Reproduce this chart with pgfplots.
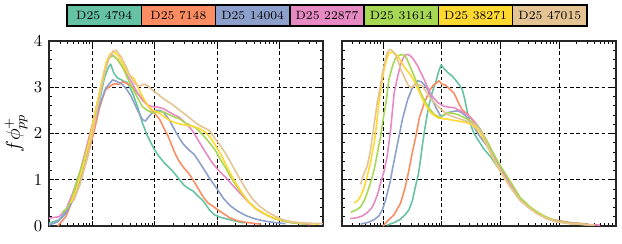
\documentclass[border=0pt]{standalone}
\usepackage{pgfplots}
\pgfplotsset{compat=1.18}
\definecolor{cA}{HTML}{66C2A5}
\definecolor{cB}{HTML}{FC8D62}
\definecolor{cC}{HTML}{8DA0CB}
\definecolor{cD}{HTML}{E78AC3}
\definecolor{cE}{HTML}{A6D854}
\definecolor{cF}{HTML}{FFD92F}
\definecolor{cG}{HTML}{E5C494}
\pgfplotsset{myax/.style={
  scale only axis, width=164.4pt, height=111pt, ymin=0, ymax=4,
  xtick={1,2,3,4}, xticklabels={},
  minor xtick={0.30103,0.47712,0.60206,0.69897,0.77815,0.84510,0.90309,0.95424,
    1.30103,1.47712,1.60206,1.69897,1.77815,1.84510,1.90309,1.95424,
    2.30103,2.47712,2.60206,2.69897,2.77815,2.84510,2.90309,2.95424,
    3.30103,3.47712,3.60206,3.69897,3.77815,3.84510,3.90309,3.95424,
    4.30103,4.47712,4.60206,4.69897,4.77815,4.84510,4.90309,4.95424},
  ytick={0,1,2,3,4}, minor y tick num=4,
  grid=major, major grid style={black, dash pattern=on 2.2pt off 1.6pt, line width=0.45pt},
  tick align=inside, xtick pos=both, ytick pos=both,
  major tick length=3pt, minor tick length=1.6pt,
  every tick/.style={black, line width=0.5pt},
  axis line style={black!85, line width=0.65pt},
  tick label style={font=\fontsize{10}{12}\selectfont},
  every axis plot/.append style={line width=0.95pt, no markers, line join=round},
}}
\begin{document}
\begin{tikzpicture}
\begin{axis}[myax, at={(29.4pt,10.2pt)}, anchor=south west, xmin=0.3, xmax=4.7,
  yticklabel style={xshift=-0.5pt},
  ylabel={$f\phi^{+}_{pp}$}, ylabel style={font=\fontsize{12}{14}\selectfont, yshift=-3pt}]
\addplot[cA] coordinates {(0.30,0.06)(0.46,0.13)(0.57,0.31)(0.68,0.63)(0.79,1.03)(0.87,1.35)(0.95,1.79)(1.03,2.22)(1.11,2.7)(1.19,3.2)(1.25,3.42)(1.29,3.5)(1.34,3.31)(1.40,3.2)(1.45,3.17)(1.50,3.13)(1.56,3.1)(1.64,2.88)(1.72,2.59)(1.80,2.23)(1.88,1.95)(1.99,1.66)(2.07,1.5)(2.15,1.37)(2.31,1.15)(2.39,1.01)(2.47,0.88)(2.55,0.8)(2.61,0.76)(2.70,0.64)(2.77,0.55)(2.84,0.42)(2.88,0.34)(2.96,0.24)(3.05,0.19)(3.14,0.16)(3.25,0.12)(3.41,0.07)(3.47,0.08)};
\addplot[cB] coordinates {(0.44,0.0)(0.57,0.2)(0.68,0.56)(0.81,0.99)(0.92,1.5)(1.03,2.08)(1.11,2.55)(1.17,2.8)(1.21,2.95)(1.29,3.03)(1.35,3.08)(1.42,3.06)(1.48,3.12)(1.55,3.08)(1.62,3.04)(1.70,2.9)(1.78,2.78)(1.88,2.62)(1.95,2.5)(2.02,2.4)(2.08,2.3)(2.15,2.1)(2.21,1.95)(2.27,1.75)(2.33,1.55)(2.39,1.40)(2.47,1.25)(2.55,1.13)(2.62,0.98)(2.70,0.8)(2.77,0.64)(2.85,0.5)(2.93,0.43)(3.0,0.36)(3.09,0.28)(3.2,0.18)(3.31,0.12)(3.45,0.08)(3.57,0.06)(3.70,0.04)};
\addplot[cC] coordinates {(0.30,0.02)(0.44,0.09)(0.57,0.27)(0.68,0.56)(0.79,0.92)(0.89,1.43)(1.0,2.08)(1.11,2.6)(1.21,2.98)(1.32,3.16)(1.40,3.12)(1.48,3.06)(1.55,2.95)(1.62,2.8)(1.72,2.51)(1.80,2.3)(1.85,2.27)(1.91,2.38)(2.0,2.5)(2.07,2.5)(2.13,2.47)(2.23,2.3)(2.34,2.02)(2.45,1.78)(2.55,1.64)(2.63,1.55)(2.72,1.37)(2.80,1.2)(2.88,1.03)(3.01,0.78)(3.10,0.6)(3.2,0.45)(3.33,0.32)(3.47,0.22)(3.62,0.15)(3.79,0.1)(3.95,0.07)(4.1,0.05)};
\addplot[cD] coordinates {(0.30,0.17)(0.46,0.2)(0.57,0.35)(0.68,0.71)(0.79,1.14)(0.89,1.64)(1.0,2.22)(1.11,2.87)(1.19,3.35)(1.26,3.62)(1.32,3.7)(1.40,3.6)(1.48,3.44)(1.56,3.25)(1.64,3.08)(1.72,2.88)(1.80,2.72)(1.88,2.62)(1.96,2.58)(2.05,2.57)(2.13,2.54)(2.21,2.48)(2.29,2.42)(2.39,2.35)(2.50,2.22)(2.61,2.05)(2.72,1.8)(2.82,1.58)(2.93,1.35)(3.04,1.18)(3.14,1.05)(3.25,0.88)(3.36,0.72)(3.5,0.52)(3.63,0.36)(3.76,0.26)(3.89,0.18)(4.05,0.11)(4.21,0.07)(4.5,0.03)};
\addplot[cE] coordinates {(0.51,0.29)(0.60,0.4)(0.66,0.56)(0.73,0.9)(0.84,1.35)(0.95,1.86)(1.05,2.5)(1.16,3.16)(1.22,3.5)(1.27,3.64)(1.33,3.68)(1.40,3.6)(1.48,3.44)(1.56,3.2)(1.64,2.98)(1.72,2.78)(1.80,2.58)(1.88,2.5)(1.96,2.45)(2.05,2.47)(2.13,2.47)(2.21,2.42)(2.29,2.37)(2.39,2.32)(2.50,2.22)(2.66,2.12)(2.77,1.97)(2.88,1.8)(2.98,1.62)(3.06,1.42)(3.14,1.25)(3.22,1.05)(3.31,0.87)(3.40,0.7)(3.52,0.5)(3.65,0.35)(3.79,0.24)(3.92,0.16)(4.05,0.11)(4.2,0.07)(4.43,0.04)};
\addplot[cF] coordinates {(0.65,0.5)(0.73,0.75)(0.84,1.25)(0.95,1.85)(1.05,2.5)(1.16,3.2)(1.22,3.55)(1.28,3.72)(1.34,3.76)(1.40,3.7)(1.48,3.52)(1.55,3.34)(1.61,3.24)(1.66,3.2)(1.73,3.0)(1.80,2.8)(1.87,2.64)(1.93,2.54)(2.0,2.48)(2.07,2.44)(2.15,2.36)(2.23,2.29)(2.31,2.24)(2.39,2.21)(2.50,2.18)(2.61,2.16)(2.71,2.11)(2.82,2.02)(2.90,1.9)(2.98,1.73)(3.04,1.6)(3.09,1.46)(3.15,1.3)(3.2,1.17)(3.28,0.97)(3.36,0.8)(3.44,0.64)(3.52,0.5)(3.62,0.38)(3.73,0.29)(3.86,0.2)(4.0,0.14)(4.15,0.1)(4.32,0.07)(4.5,0.05)(4.64,0.04)};
\addplot[cG] coordinates {(0.70,0.55)(0.80,0.9)(0.90,1.4)(1.0,2.0)(1.1,2.7)(1.2,3.35)(1.27,3.65)(1.33,3.78)(1.38,3.8)(1.46,3.65)(1.54,3.44)(1.60,3.25)(1.66,3.12)(1.72,3.03)(1.78,3.04)(1.83,3.07)(1.90,3.02)(1.96,2.94)(2.05,2.85)(2.13,2.76)(2.21,2.69)(2.29,2.62)(2.40,2.5)(2.50,2.4)(2.61,2.28)(2.71,2.18)(2.80,2.12)(2.88,2.06)(2.96,1.9)(3.04,1.76)(3.12,1.6)(3.2,1.42)(3.28,1.22)(3.36,1.03)(3.46,0.8)(3.57,0.58)(3.68,0.43)(3.79,0.32)(3.92,0.22)(4.05,0.14)(4.2,0.09)(4.32,0.07)(4.5,0.06)(4.7,0.05)};
\end{axis}
\begin{axis}[myax, at={(205.2pt,10.2pt)}, anchor=south west, xmin=0.3, xmax=4.97, yticklabels={}]
\addplot[cA] coordinates {(1.07,0.02)(1.2,0.08)(1.3,0.15)(1.38,0.25)(1.44,0.35)(1.5,0.55)(1.56,0.9)(1.60,1.1)(1.64,1.45)(1.67,1.75)(1.73,2.25)(1.78,2.6)(1.84,2.9)(1.90,3.12)(1.95,3.35)(1.99,3.48)(2.04,3.4)(2.10,3.32)(2.17,3.25)(2.24,3.15)(2.30,3.05)(2.35,2.95)(2.39,2.75)(2.44,2.45)(2.49,2.2)(2.55,2.0)(2.64,1.82)(2.72,1.66)(2.83,1.5)(2.95,1.28)(3.06,1.07)(3.17,0.85)(3.29,0.63)(3.46,0.42)(3.60,0.3)(3.75,0.2)(3.91,0.13)(4.2,0.07)(4.48,0.04)};
\addplot[cB] coordinates {(1.0,0.0)(1.07,0.1)(1.19,0.25)(1.30,0.5)(1.38,0.85)(1.44,1.2)(1.50,1.6)(1.56,1.95)(1.62,2.35)(1.70,2.65)(1.80,2.95)(1.86,3.05)(1.90,3.08)(1.95,3.14)(2.0,3.07)(2.06,3.05)(2.12,2.98)(2.21,2.87)(2.29,2.65)(2.35,2.51)(2.44,2.42)(2.52,2.29)(2.61,2.12)(2.70,1.92)(2.78,1.75)(2.86,1.6)(2.95,1.38)(3.06,1.14)(3.17,0.87)(3.29,0.65)(3.46,0.43)(3.60,0.31)(3.75,0.2)(3.91,0.13)(4.2,0.07)(4.5,0.04)};
\addplot[cC] coordinates {(0.62,0.04)(0.75,0.08)(0.85,0.14)(0.93,0.22)(0.99,0.36)(1.04,0.55)(1.07,0.7)(1.12,0.95)(1.16,1.23)(1.25,1.8)(1.33,2.31)(1.42,2.74)(1.50,2.99)(1.59,3.14)(1.65,3.12)(1.70,3.06)(1.76,2.95)(1.81,2.81)(1.90,2.56)(1.98,2.38)(2.04,2.4)(2.10,2.45)(2.20,2.48)(2.27,2.49)(2.34,2.45)(2.41,2.38)(2.48,2.27)(2.55,2.14)(2.64,1.95)(2.72,1.82)(2.78,1.72)(2.88,1.48)(3.0,1.2)(3.17,0.86)(3.34,0.56)(3.5,0.4)(3.63,0.28)(3.80,0.16)(3.97,0.09)(4.2,0.05)(4.5,0.03)};
\addplot[cD] coordinates {(0.44,0.16)(0.56,0.18)(0.65,0.22)(0.73,0.29)(0.80,0.38)(0.85,0.5)(0.91,0.7)(0.96,0.94)(1.02,1.2)(1.07,1.51)(1.10,1.8)(1.13,2.09)(1.16,2.5)(1.19,2.88)(1.25,3.24)(1.30,3.5)(1.35,3.65)(1.39,3.71)(1.44,3.7)(1.50,3.64)(1.59,3.46)(1.70,3.17)(1.81,2.85)(1.93,2.67)(2.04,2.59)(2.12,2.57)(2.21,2.56)(2.30,2.5)(2.38,2.45)(2.47,2.38)(2.55,2.27)(2.66,2.09)(2.78,1.78)(2.90,1.5)(3.0,1.24)(3.17,0.89)(3.34,0.58)(3.5,0.4)(3.63,0.28)(3.80,0.17)(3.97,0.1)(4.2,0.06)(4.5,0.03)(4.7,0.02)};
\addplot[cE] coordinates {(0.45,0.3)(0.55,0.35)(0.62,0.42)(0.68,0.55)(0.73,0.72)(0.79,0.95)(0.85,1.23)(0.90,1.55)(0.96,1.95)(1.0,2.3)(1.05,2.67)(1.1,3.17)(1.16,3.46)(1.21,3.62)(1.25,3.68)(1.33,3.71)(1.38,3.67)(1.42,3.57)(1.47,3.42)(1.53,3.24)(1.64,2.88)(1.76,2.59)(1.87,2.41)(1.98,2.34)(2.04,2.4)(2.10,2.45)(2.18,2.44)(2.27,2.41)(2.36,2.36)(2.44,2.31)(2.52,2.24)(2.61,2.16)(2.70,2.0)(2.78,1.82)(2.88,1.57)(3.0,1.3)(3.17,0.96)(3.34,0.61)(3.5,0.42)(3.63,0.3)(3.80,0.18)(3.97,0.1)(4.2,0.06)(4.45,0.03)};
\addplot[cF] coordinates {(0.51,0.5)(0.57,0.55)(0.62,0.65)(0.68,0.85)(0.73,1.08)(0.79,1.4)(0.85,1.8)(0.89,2.2)(0.93,2.67)(0.98,3.1)(1.02,3.39)(1.06,3.6)(1.10,3.74)(1.15,3.76)(1.19,3.74)(1.23,3.7)(1.27,3.64)(1.33,3.5)(1.39,3.39)(1.45,3.3)(1.50,3.2)(1.55,3.08)(1.61,2.92)(1.70,2.67)(1.81,2.45)(1.93,2.34)(2.01,2.32)(2.10,2.31)(2.27,2.27)(2.44,2.23)(2.52,2.18)(2.61,2.09)(2.70,1.92)(2.78,1.73)(2.88,1.45)(3.0,1.18)(3.17,0.84)(3.34,0.55)(3.5,0.39)(3.63,0.27)(3.80,0.16)(3.97,0.09)(4.2,0.05)(4.6,0.02)};
\addplot[cG] coordinates {(0.62,0.9)(0.65,1.05)(0.68,1.15)(0.73,1.3)(0.78,1.6)(0.82,1.95)(0.86,2.3)(0.90,2.67)(0.95,3.0)(0.99,3.31)(1.03,3.55)(1.07,3.75)(1.10,3.8)(1.13,3.82)(1.17,3.77)(1.22,3.68)(1.26,3.55)(1.30,3.39)(1.35,3.25)(1.39,3.14)(1.43,3.04)(1.47,2.99)(1.51,3.02)(1.56,3.06)(1.62,3.05)(1.67,3.03)(1.72,2.93)(1.78,2.81)(1.85,2.7)(1.93,2.59)(2.02,2.49)(2.10,2.41)(2.2,2.36)(2.32,2.31)(2.44,2.26)(2.55,2.2)(2.63,2.1)(2.70,1.98)(2.78,1.75)(2.88,1.47)(3.0,1.2)(3.17,0.84)(3.34,0.55)(3.5,0.38)(3.63,0.26)(3.80,0.15)(3.97,0.09)(4.2,0.05)(4.6,0.02)};
\end{axis}
\foreach \i/\c/\t in {0/cA/D25 4794,1/cB/D25 7148,2/cC/D25 14004,3/cD/D25 22877,4/cE/D25 31614,5/cF/D25 38271,6/cG/D25 47015}{
  \draw[fill=\c, line width=0.8pt] ({40.2pt+\i*44.57pt},130.2pt) rectangle ++(44.57pt,12.6pt);
  \node[font=\fontsize{7.2}{8}\selectfont, inner sep=0pt] at ({40.2pt+\i*44.57pt+22.285pt},136.5pt) {\t};
}
\pgfresetboundingbox
\path (0,0) rectangle (373.2pt,145.8pt);
\end{tikzpicture}
\end{document}
